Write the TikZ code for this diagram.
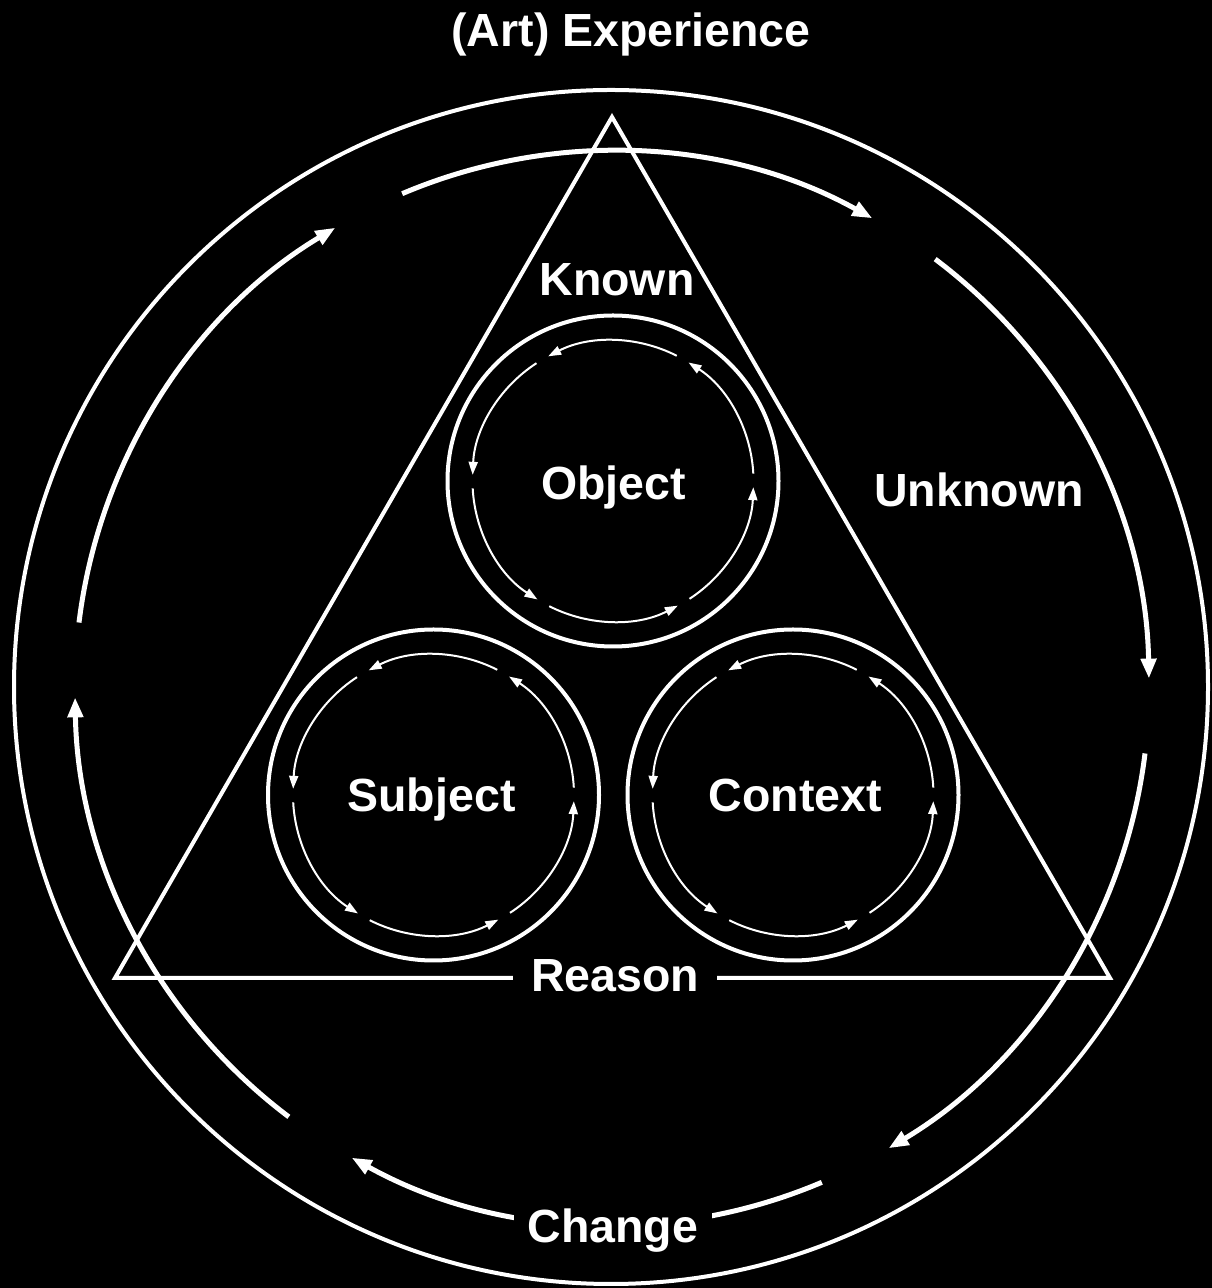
\documentclass[tikz,border=0pt]{standalone}
\usepackage{fontspec}
\setmainfont{Liberation Sans}
\usetikzlibrary{arrows.meta}
\begin{document}
\begin{tikzpicture}[x=1pt,y=1pt,
  lbl/.style={text=white,font=\bfseries\fontsize{46.5}{50}\selectfont,inner sep=0pt,anchor=base},
  ringarrow/.style={draw=white,line width=5pt,-{Triangle[length=20pt,width=15pt]}},
  smallarrow/.style={draw=white,line width=2pt,-{Triangle[length=13pt,width=9pt]}},
  smallcircle/.style={circle,draw=white,line width=4pt,minimum size=331pt,inner sep=0pt},
  triline/.style={draw=white,line width=4pt,line join=miter},
  bigcircle/.style={draw=white,line width=4pt}]
\fill[black] (0,0) rectangle (1212,1288);
\useasboundingbox (0,0) rectangle (1212,1288);
% centres
\coordinate (C) at (611,601);
\coordinate (R) at (612,600);
\coordinate (A) at (612,1171);
\coordinate (BL) at (115,310);
\coordinate (BR) at (1110,310);
% outer circle
\draw[bigcircle] (C) circle[radius=597pt];
% triangle
\draw[triline] (A) -- (BL) -- (BR) -- cycle;
% ring arrows
\foreach \k in {0,...,5}{
  \pgfmathsetmacro\sa{113-60*\k}
  \pgfmathsetmacro\ea{61-60*\k}
  \draw[ringarrow] ([shift={(\sa:537pt)}]R) arc[start angle=\sa,end angle=\ea,radius=537pt];
}
% small circles
\node[smallcircle] (objc) at (613,807) {};
\node[smallcircle] (subc) at (433.5,493) {};
\node[smallcircle] (conc) at (793,493) {};
\foreach \c in {objc,subc,conc}{
  \foreach \k in {0,...,5}{
    \pgfmathsetmacro\sa{3+60*\k}
    \pgfmathsetmacro\ea{57.5+60*\k}
    \draw[smallarrow] ([shift={(\sa:140.5pt)}]\c.center) arc[start angle=\sa,end angle=\ea,radius=140.5pt];
  }
}
% labels
\node[lbl] (title) at (631,1241) {(Art) Experience};
\node[lbl] (known) at (617,992) {Known};
\node[lbl] (unknown) at (979,781) {Unknown};
\node[lbl] (object) at (613.5,788) {Object};
\node[lbl] (subject) at (431.5,476) {Subject};
\node[lbl] (context) at (795.5,476) {Context};
\node[lbl,fill=black,inner xsep=18pt,inner ysep=2pt] (reason) at (615,296) {Reason};
\node[lbl,fill=black,inner xsep=14pt,inner ysep=2pt] (change) at (613,45) {Change};
\end{tikzpicture}
\end{document}
